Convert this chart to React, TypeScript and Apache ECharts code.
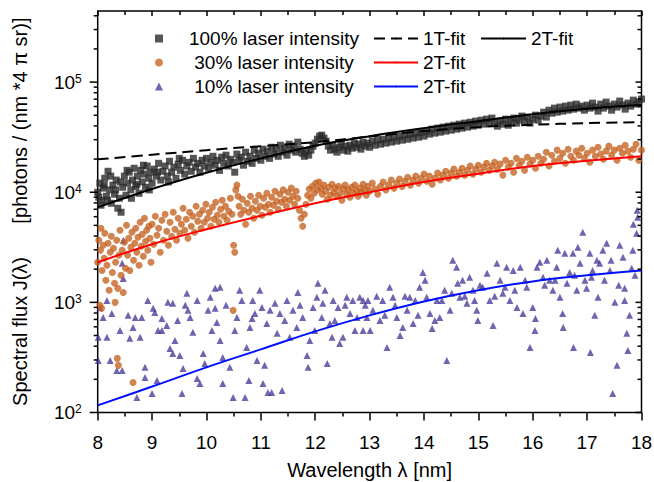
import React, { useEffect, useRef } from 'react';
import * as echarts from 'echarts';

const FONT = '"Liberation Sans", Arial, Helvetica, sans-serif';

// Tick values of the logarithmic flux axis
const yTickValues = [
  100, 200, 300, 400, 500, 600, 700, 800, 900,
  1000, 2000, 3000, 4000, 5000, 6000, 7000, 8000, 9000,
  10000, 20000, 30000, 40000, 50000, 60000, 70000, 80000, 90000,
  100000, 200000, 300000, 400000,
];

// Fit curves (wavelength in nm, flux)
const fitLambda = [8, 9, 10, 11, 12, 13, 14, 15, 16, 17, 18];
const fit1T100 = [19900, 21900, 24100, 26200, 28500, 32000, 35900, 39000, 41000, 42400, 43200];
const fit2T100 = [7300, 10700, 15000, 20300, 26400, 32300, 38200, 44200, 51100, 57400, 61800];
const fit2T30 = [2310, 3370, 4610, 6110, 7940, 10000, 12400, 14700, 17300, 19300, 21200];
const fit2T10 = [116, 172, 257, 374, 545, 762, 1020, 1290, 1550, 1760, 1950];

// 100% laser intensity (squares)
const squares100: [number, number][] = [
  [8.00,10000],[8.02,9010],[8.04,12100],[8.06,7620],[8.07,8460],[8.10,10900],[8.12,11600],[8.13,13400],[8.16,9200],[8.18,8460],[8.19,15500],[8.22,10500],[8.24,14000],[8.25,7940],[8.28,11600],[8.31,9590],[8.33,10500],[8.34,12900],[8.37,7160],[8.40,8820],[8.42,12400],[8.43,6580],[8.46,11100],[8.49,14000],[8.52,9390],[8.54,15800],[8.55,12100],[8.58,15200],[8.61,10500],[8.62,8820],[8.64,12900],[8.67,16500],[8.70,11300],[8.72,11800],[8.73,14000],[8.76,9790],[8.79,15800],[8.82,12400],[8.84,17600],[8.85,14600],[8.88,11100],[8.91,17300],[8.94,13400],[8.95,10500],[8.97,15200],
  [9.00,12100],[9.04,16200],[9.08,14000],[9.10,15200],[9.12,18300],[9.16,12900],[9.20,15500],[9.24,17300],[9.28,14000],[9.30,12400],[9.32,19100],[9.36,15200],[9.40,16900],[9.44,13400],[9.48,18000],[9.50,20300],[9.52,15800],[9.56,19500],[9.60,14600],[9.64,17300],[9.68,18700],[9.72,15500],[9.76,20300],[9.80,16900],[9.84,18300],[9.88,15200],[9.92,19500],[9.96,17300],
  [10.00,20300],[10.04,16500],[10.08,18700],[10.12,21200],[10.16,17600],[10.20,19500],[10.24,15800],[10.28,20800],[10.32,18300],[10.36,21700],[10.40,17300],[10.44,19900],[10.48,18700],[10.52,15200],[10.56,22200],[10.60,19500],[10.64,20800],[10.68,17600],[10.72,23100],[10.76,19100],[10.80,21200],[10.84,18300],[10.88,24100],[10.92,20300],[10.96,22600],
  [11.00,19500],[11.04,24600],[11.08,21200],[11.12,23600],[11.16,20300],[11.20,25600],[11.24,22200],[11.28,24600],[11.32,21200],[11.36,26700],[11.40,23100],[11.44,25100],[11.48,21700],[11.52,27300],[11.56,24100],[11.60,26200],[11.64,23100],[11.68,28500],[11.72,24600],[11.76,22600],[11.80,21200],[11.84,23600],[11.88,21700],[11.92,24100],[11.96,26200],
  [12.00,27900],[12.04,30300],[12.08,32300],[12.12,33000],[12.16,31000],[12.20,29100],[12.24,26200],[12.28,24100],[12.32,26700],[12.36,24600],[12.40,23100],[12.44,25600],[12.48,27300],[12.52,24100],[12.56,26200],[12.60,23600],[12.64,26700],[12.68,25100],[12.72,27900],[12.76,25600],[12.80,27300],[12.84,24600],[12.88,28500],[12.92,26200],[12.96,27900],
  [13.00,25600],[13.05,29100],[13.10,26700],[13.15,29700],[13.20,27300],[13.25,30300],[13.30,27900],[13.35,31000],[13.40,28500],[13.45,31600],[13.50,29100],[13.55,32300],[13.60,29700],[13.65,33000],[13.70,30300],[13.75,33700],[13.80,31000],[13.85,34400],[13.90,31600],[13.95,35100],
  [14.00,32300],[14.05,35900],[14.10,33700],[14.15,37400],[14.20,34400],[14.25,38200],[14.30,35100],[14.35,39000],[14.40,35900],[14.45,39800],[14.50,36600],[14.55,40600],[14.60,37400],[14.65,41500],[14.70,38200],[14.75,42400],[14.80,39000],[14.85,43200],[14.90,39800],[14.95,44200],
  [15.00,40600],[15.05,45100],[15.10,41500],[15.15,46100],[15.20,42400],[15.25,47100],[15.30,43200],[15.35,39800],[15.40,44200],[15.45,41500],[15.50,46100],[15.55,40600],[15.60,44200],[15.65,47100],[15.70,42400],[15.75,45100],[15.80,49100],[15.85,44200],[15.90,48100],[15.95,42400],
  [16.00,46100],[16.05,50100],[16.10,45100],[16.15,49100],[16.20,53300],[16.25,48100],[16.30,55600],[16.35,52200],[16.40,58000],[16.45,53300],[16.50,59300],[16.55,54500],[16.60,60500],[16.65,55600],[16.70,61800],[16.75,56800],[16.80,63100],[16.85,58000],[16.90,60500],[16.95,55600],
  [17.00,61800],[17.05,58000],[17.10,64400],[17.15,59300],[17.20,54500],[17.25,63100],[17.30,58000],[17.35,65800],[17.40,60500],[17.45,55600],[17.50,63100],[17.55,59300],[17.60,67200],[17.65,61800],[17.70,56800],[17.75,64400],[17.80,60500],[17.85,68600],[17.90,63100],[17.95,65800],[18.00,70100],
];

// 30% laser intensity (circles)
const circles30: [number, number][] = [
  [8.00,2310],[8.02,3660],[8.04,940],[8.05,2970],[8.06,4710],[8.07,882],[8.08,1950],[8.10,3300],[8.12,2510],[8.13,4240],[8.15,1585],[8.17,2170],[8.19,3440],[8.21,1290],[8.23,2850],[8.25,3980],[8.27,1870],[8.29,3100],[8.31,1490],[8.32,1000],[8.33,2310],[8.35,3660],[8.36,310],[8.37,1340],[8.38,268],[8.39,2680],[8.41,4520],[8.43,1760],[8.45,2970],[8.47,1230],[8.49,3510],[8.51,2040],[8.53,5010],[8.55,2680],[8.57,3820],[8.59,1950],[8.61,3160],[8.63,4330],[8.65,187],[8.66,2410],[8.68,3440],[8.70,4710],[8.72,2850],[8.74,3900],[8.76,2170],[8.78,5340],[8.80,3230],[8.82,4150],[8.84,2620],[8.86,5800],[8.88,3590],[8.90,4520],[8.92,2970],[8.94,4910],[8.96,3820],[8.98,2310],
  [9.00,5120],[9.03,3370],[9.06,6050],[9.09,4070],[9.12,4710],[9.15,2850],[9.18,5570],[9.21,3660],[9.24,6310],[9.27,4420],[9.30,3300],[9.33,5340],[9.36,3980],[9.39,6580],[9.42,4610],[9.45,3660],[9.48,5800],[9.51,4240],[9.54,5120],[9.57,7160],[9.60,4520],[9.63,5680],[9.66,3820],[9.69,6580],[9.72,4910],[9.75,6050],[9.78,4330],[9.81,7460],[9.84,5450],[9.87,6310],[9.90,4710],[9.93,6860],[9.96,5340],[9.99,7780],
  [10.02,5800],[10.05,6580],[10.08,4910],[10.11,7300],[10.14,5680],[10.17,8110],[10.20,6180],[10.23,5340],[10.26,7010],[10.29,8460],[10.32,6050],[10.35,7460],[10.38,5570],[10.41,6720],[10.44,8820],[10.47,6310],[10.49,846],[10.50,3300],[10.52,2850],[10.54,10500],[10.56,11600],[10.58,9200],[10.60,7460],[10.63,6310],[10.66,8640],[10.69,6860],[10.72,5120],[10.75,7940],[10.78,6580],[10.81,9200],[10.84,7160],[10.87,5800],[10.90,8280],[10.93,6860],[10.96,9390],[10.99,7460],
  [11.02,6180],[11.05,8820],[11.08,7300],[11.11,9790],[11.14,7780],[11.17,6580],[11.20,9010],[11.23,7620],[11.26,10200],[11.29,8280],[11.32,7010],[11.35,9590],[11.38,8110],[11.41,10500],[11.44,8640],[11.47,7460],[11.50,10000],[11.53,8460],[11.56,10900],[11.59,9200],[11.62,7780],[11.65,10200],[11.68,8820],[11.71,6860],[11.74,5800],[11.77,4910],[11.80,6310],[11.83,7780],[11.86,9390],[11.89,10700],[11.92,8820],[11.95,11300],[11.98,9790],
  [12.01,12100],[12.04,10500],[12.07,12400],[12.10,10900],[12.13,9590],[12.16,11600],[12.19,10200],[12.22,8640],[12.25,11100],[12.28,9390],[12.31,11800],[12.34,10000],[12.37,10900],[12.40,9200],[12.43,11300],[12.46,9790],[12.49,8460],[12.52,10700],[12.55,11600],[12.58,9590],[12.61,10500],[12.64,9010],[12.67,11100],[12.70,9790],[12.73,11600],[12.76,10200],[12.79,9200],[12.82,10900],[12.85,10000],[12.88,11800],[12.91,10500],[12.94,9390],[12.97,11300],
  [13.00,10200],[13.05,12100],[13.10,10700],[13.15,9590],[13.20,11300],[13.25,12400],[13.30,10500],[13.35,11600],[13.40,12900],[13.45,10900],[13.50,12100],[13.55,13200],[13.60,11300],[13.65,12600],[13.70,13700],[13.75,11600],[13.80,12900],[13.85,14000],[13.90,12100],[13.95,13400],
  [14.00,14600],[14.05,12600],[14.10,14000],[14.15,11800],[14.20,13400],[14.25,14900],[14.30,12900],[14.35,14300],[14.40,15500],[14.45,13400],[14.50,14900],[14.55,16200],[14.60,14000],[14.65,15200],[14.70,16500],[14.75,14300],[14.80,15800],[14.85,17300],[14.90,14600],[14.95,16200],
  [15.00,17600],[15.05,15200],[15.10,16900],[15.15,18300],[15.20,15800],[15.25,17300],[15.30,18700],[15.35,16200],[15.40,18000],[15.45,14300],[15.50,19500],[15.55,16900],[15.60,18300],[15.65,15200],[15.70,20300],[15.75,17600],[15.80,19100],[15.85,15800],[15.90,20800],[15.95,18000],
  [16.00,19500],[16.05,16500],[16.10,21200],[16.15,18300],[16.20,19900],[16.25,23100],[16.30,17300],[16.35,21700],[16.40,19100],[16.45,24100],[16.50,20300],[16.55,22600],[16.60,18300],[16.65,24600],[16.70,21200],[16.75,19500],[16.80,23600],[16.85,21700],[16.90,25100],[16.95,20300],
  [17.00,22600],[17.05,18700],[17.10,24100],[17.15,21200],[17.20,25600],[17.25,22200],[17.30,19900],[17.35,23600],[17.40,26200],[17.45,21700],[17.50,24100],[17.55,19500],[17.60,25100],[17.65,22600],[17.70,26700],[17.75,23600],[17.80,20800],[17.85,24600],[17.90,27300],[17.95,19500],[18.00,24100],
];

// 10% laser intensity (triangles)
const triangles10: [number, number][] = [
  [8.47,3660],[8.45,2260],[8.47,1650],[8.04,900],[8.17,1040],[8.26,794],[8.10,730],[8.01,481],[8.41,556],[8.17,481],[8.01,297],[8.23,297],[8.35,241],[8.45,241],[8.56,762],[8.65,592],[8.69,730],[8.81,730],[8.59,471],[8.78,481],[8.72,137],[8.87,257],[8.87,208],[8.92,1040],
  [9.00,149],[9.02,882],[9.05,811],[9.09,195],[9.11,556],[9.18,715],[9.18,556],[9.27,618],[9.29,1000],[9.38,980],[9.33,382],[9.38,344],[9.42,451],[9.47,686],[9.51,330],[9.55,149],[9.57,251],[9.61,940],[9.64,1210],[9.66,846],[9.70,730],[9.75,534],[9.83,1040],[9.83,204],[9.88,183],[9.94,344],[9.97,279],
  [10.03,846],[10.07,1110],[10.10,556],[10.16,1340],[10.25,1370],[10.16,882],[10.19,658],[10.25,451],[10.30,316],[10.30,183],[10.36,940],[10.43,257],[10.49,137],[10.52,556],[10.56,730],[10.61,1290],[10.65,1040],[10.71,137],[10.74,390],[10.78,195],[10.80,592],[10.84,715],[10.85,1040],[10.89,794],[10.93,297],[10.98,1290],
  [11.02,900],[11.04,183],[11.07,268],[11.11,644],[11.13,152],[11.17,846],[11.20,152],[11.26,980],[11.30,523],[11.35,794],[11.39,158],[11.44,686],[11.48,1040],[11.53,481],[11.59,846],[11.66,592],[11.68,1230],[11.72,940],[11.77,730],[11.85,330],[11.87,257],[11.90,451],[11.96,900],[11.99,556],
  [12.03,1110],[12.05,1490],[12.12,730],[12.14,980],[12.18,1290],[12.22,279],[12.27,644],[12.31,481],[12.33,1040],[12.36,686],[12.42,900],[12.45,424],[12.51,481],[12.55,940],[12.58,1110],[12.64,794],[12.69,1040],[12.73,556],[12.77,730],[12.82,1110],[12.88,556],[12.88,1040],[12.92,940],[12.95,730],[12.97,1040],
  [13.01,556],[13.06,846],[13.13,1135],[13.19,686],[13.24,1040],[13.28,762],[13.32,390],[13.37,1370],[13.43,1110],[13.47,940],[13.50,730],[13.56,501],[13.61,592],[13.65,1135],[13.69,846],[13.74,1110],[13.80,644],[13.84,1040],[13.89,762],[13.92,1370],[13.98,1870],
  [14.02,1585],[14.05,1110],[14.11,794],[14.15,580],[14.20,686],[14.24,1040],[14.29,730],[14.33,1040],[14.38,1290],[14.42,297],[14.48,846],[14.51,1210],[14.53,2410],[14.60,2080],[14.62,1490],[14.66,1110],[14.71,1585],[14.75,1135],[14.79,980],[14.84,1690],[14.90,1290],[14.93,1040],[14.97,846],[14.99,686],
  [15.03,1430],[15.08,1370],[15.16,1840],[15.21,1040],[15.27,618],[15.30,1135],[15.34,2260],[15.40,1585],[15.45,1210],[15.49,1370],[15.52,2080],[15.58,1040],[15.64,1950],[15.67,1290],[15.71,900],[15.77,2080],[15.82,794],[15.86,1585],[15.89,1370],[15.95,390],
  [16.00,900],[16.04,556],[16.05,715],[16.08,2080],[16.13,2310],[16.19,1690],[16.22,1430],[16.26,2410],[16.31,1585],[16.37,1290],[16.41,1585],[16.44,2080],[16.46,2970],[16.50,1110],[16.55,794],[16.56,592],[16.59,2790],[16.63,1490],[16.68,1870],[16.74,2790],[16.75,390],[16.77,1760],[16.81,1290],[16.83,3160],[16.87,2260],[16.92,4330],[16.96,1585],[16.99,1340],
  [17.05,2790],[17.06,351],[17.08,1690],[17.10,1950],[17.14,762],[17.18,2410],[17.20,1110],[17.23,2260],[17.29,2970],[17.32,1585],[17.36,3440],[17.42,1950],[17.44,2410],[17.47,149],[17.51,1000],[17.55,268],[17.58,1430],[17.60,3300],[17.66,2570],[17.69,1340],[17.69,1040],[17.73,523],[17.75,366],[17.78,762],[17.82,2040],[17.84,2970],[17.85,5120],[17.88,1760],[17.91,4240],[17.92,6860],[17.93,5920],
];

const pairs = (xs: number[], ys: number[]) => xs.map((x, i) => [x, ys[i]]);

const isDecade = (v: number) => {
  const l = Math.log10(v);
  return Math.abs(l - Math.round(l)) < 1e-6;
};

export default function App() {
  const ref = useRef<HTMLDivElement>(null);

  useEffect(() => {
    if (!ref.current) return;
    const chart = echarts.init(ref.current, undefined, { renderer: 'svg' });

    const axisTextStyle = { color: '#000', fontFamily: FONT, fontSize: 19 };
    const legendText = {
      color: '#000', fontFamily: FONT, fontSize: 19, lineHeight: 19,
    };

    const option: any = {
      animation: false,
      backgroundColor: '#ffffff',
      grid: {
        left: 97.7, right: 12.5, top: 11, bottom: 69.5,
        show: true, borderColor: '#000', borderWidth: 1.5,
        backgroundColor: 'transparent',
        containLabel: false,
        outerBoundsMode: 'none',
      },
      legend: [
        {
          orient: 'vertical', left: 155, top: 29, padding: 0, itemGap: 5,
          itemWidth: 8, itemHeight: 8,
          data: ['100% laser intensity', '30% laser intensity', '10% laser intensity'],
          formatter: (name: string) => `{a|${name}}`,
          textStyle: {
            ...legendText,
            rich: { a: { width: 212, align: 'center', color: '#000', fontFamily: FONT, fontSize: 19, lineHeight: 19 } },
          },
          selectedMode: false,
        },
        {
          orient: 'vertical', left: 373, top: 29, padding: 0, itemGap: 5,
          itemWidth: 44, itemHeight: 2,
          data: ['1T-fit', '2T-fit (30%)', '2T-fit (10%)'],
          formatter: (name: string) => (name.indexOf('2T') === 0 ? '2T-fit' : name),
          textStyle: legendText,
          selectedMode: false,
        },
        {
          orient: 'vertical', left: 480, top: 29, padding: 0, itemGap: 5,
          itemWidth: 45, itemHeight: 2,
          data: ['2T-fit (100%)'],
          formatter: () => '2T-fit',
          textStyle: legendText,
          selectedMode: false,
        },
      ],
      xAxis: [
        {
          type: 'value', min: 8, max: 18, interval: 1, position: 'bottom',
          axisLine: { show: false },
          axisTick: { show: true, inside: false, length: 8, lineStyle: { color: '#000', width: 1.5 } },
          minorTick: { show: true, splitNumber: 2, length: 4, lineStyle: { color: '#000', width: 1.5 } },
          splitLine: { show: false },
          axisLabel: { ...axisTextStyle, margin: 20 },
          name: 'Wavelength λ [nm]',
          nameLocation: 'middle', nameGap: 47,
          nameTextStyle: { color: '#000', fontFamily: FONT, fontSize: 20 },
        },
        {
          type: 'value', min: 8, max: 18, interval: 1, position: 'top',
          axisLine: { show: false },
          axisTick: { show: true, inside: true, length: 5, lineStyle: { color: '#000', width: 1.5 } },
          minorTick: { show: true, splitNumber: 2, length: 4, lineStyle: { color: '#000', width: 1.5 } },
          splitLine: { show: false },
          axisLabel: { show: false },
        },
      ],
      yAxis: {
        type: 'log', logBase: 10, min: 100, max: 442000,
        axisLine: { show: false },
        axisTick: { show: false },
        splitLine: { show: false },
        minorTick: { show: false },
        axisLabel: {
          margin: 16,
          formatter: (v: number) => (isDecade(v) ? `{b|10}{s|${Math.round(Math.log10(v))}}` : ''),
          rich: {
            b: { color: '#000', fontFamily: FONT, fontSize: 19, lineHeight: 19 },
            s: { color: '#000', fontFamily: FONT, fontSize: 12, lineHeight: 12, verticalAlign: 'top' },
          },
        },
        name: 'Spectral flux J(λ)\u00a0\u00a0\u00a0\u00a0\u00a0\u00a0[photons / (nm *4 π sr)]',
        nameLocation: 'middle', nameGap: 68,
        nameTextStyle: { color: '#000', fontFamily: FONT, fontSize: 20 },
      },
      series: [
        {
          name: '10% laser intensity', type: 'scatter', symbol: 'triangle', symbolSize: 7,
          data: triangles10,
          itemStyle: { color: '#45399a', opacity: 0.78 },
          silent: true, z: 2,
        },
        {
          name: '30% laser intensity', type: 'scatter', symbol: 'circle', symbolSize: 7,
          data: circles30,
          itemStyle: { color: '#c4601f', opacity: 0.78 },
          silent: true, z: 2,
        },
        {
          name: '100% laser intensity', type: 'scatter', symbol: 'rect', symbolSize: 7,
          data: squares100,
          itemStyle: { color: '#2a2a2a', opacity: 0.8 },
          silent: true, z: 2,
        },
        {
          name: '1T-fit', type: 'line', smooth: 0.4, symbol: 'circle', showSymbol: false,
          data: pairs(fitLambda, fit1T100),
          lineStyle: { color: '#000', width: 2, type: [11, 6] },
          itemStyle: { color: '#000' },
          silent: true, z: 4,
        },
        {
          name: '2T-fit (100%)', type: 'line', smooth: 0.4, symbol: 'circle', showSymbol: false,
          data: pairs(fitLambda, fit2T100),
          lineStyle: { color: '#000', width: 2 },
          itemStyle: { color: '#000' },
          silent: true, z: 4,
        },
        {
          name: '2T-fit (30%)', type: 'line', smooth: 0.4, symbol: 'circle', showSymbol: false,
          data: pairs(fitLambda, fit2T30),
          lineStyle: { color: '#ff0000', width: 2 },
          itemStyle: { color: '#ff0000' },
          silent: true, z: 4,
        },
        {
          name: '2T-fit (10%)', type: 'line', smooth: 0.4, symbol: 'circle', showSymbol: false,
          data: pairs(fitLambda, fit2T10),
          lineStyle: { color: '#0010ff', width: 2 },
          itemStyle: { color: '#0010ff' },
          silent: true, z: 4,
        },
        {
          name: 'yTicks', type: 'custom', silent: true, clip: false, z: 6,
          data: yTickValues.map((v) => [8, v]),
          encode: { x: 0, y: 1 },
          renderItem: (_params: any, api: any) => {
            const v = api.value(1);
            const l = api.coord([8, v]);
            const r = api.coord([18, v]);
            const major = isDecade(v);
            const lenL = major ? 8 : 4;
            const lenR = major ? 6 : 4;
            const st = { stroke: '#000', lineWidth: 1.5 };
            return {
              type: 'group',
              children: [
                { type: 'line', shape: { x1: l[0] - lenL, y1: l[1], x2: l[0], y2: l[1] }, style: st },
                { type: 'line', shape: { x1: r[0], y1: r[1], x2: r[0] - lenR, y2: r[1] }, style: st },
              ],
            };
          },
        },
      ],
    };

    chart.setOption(option);
    return () => chart.dispose();
  }, []);

  return (
    <div
      ref={ref}
      style={{ position: 'absolute', left: 0, top: 0, width: 654, height: 482, background: '#fff' }}
    />
  );
}
